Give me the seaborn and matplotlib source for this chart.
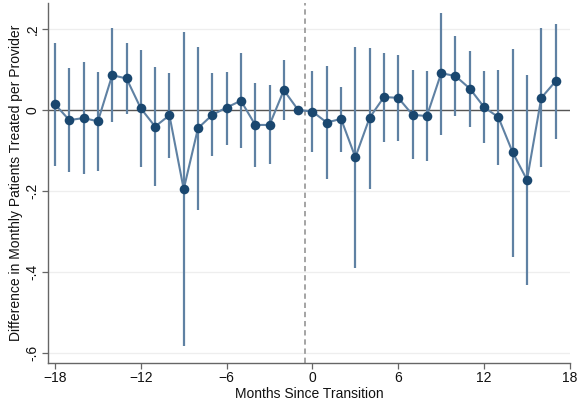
import numpy as np
import pandas as pd
import matplotlib.pyplot as plt
import seaborn as sns

plt.switch_backend("Agg")
sns.set_theme(style="white")
plt.rcParams["font.family"] = ["Liberation Sans", "DejaVu Sans"]

# Event-study coefficients (month -1 is the reference period)
months = list(range(-18, 18))
coef = [0.014, -0.025, -0.020, -0.028, 0.086, 0.078, 0.004, -0.041, -0.013,
        -0.196, -0.045, -0.012, 0.006, 0.023, -0.037, -0.037, 0.049, 0.000,
        -0.004, -0.031, -0.022, -0.117, -0.019, 0.032, 0.030, -0.012, -0.015,
        0.091, 0.084, 0.053, 0.007, -0.018, -0.105, -0.173, 0.030, 0.071]
ci_hi = [0.166, 0.103, 0.119, 0.094, 0.204, 0.166, 0.148, 0.106, 0.092,
         0.192, 0.156, 0.091, 0.095, 0.140, 0.067, 0.061, 0.123, np.nan,
         0.096, 0.109, 0.057, 0.156, 0.154, 0.142, 0.137, 0.098, 0.096,
         0.239, 0.183, 0.147, 0.096, 0.099, 0.152, 0.087, 0.202, 0.212]
ci_lo = [-0.138, -0.154, -0.158, -0.150, -0.030, -0.011, -0.140, -0.188, -0.119,
         -0.584, -0.247, -0.115, -0.086, -0.095, -0.140, -0.134, -0.025, np.nan,
         -0.103, -0.171, -0.103, -0.391, -0.195, -0.080, -0.077, -0.122, -0.127,
         -0.061, -0.014, -0.041, -0.081, -0.136, -0.364, -0.432, -0.141, -0.072]

x_ticks = [-18, -12, -6, 0, 6, 12, 18]
y_ticks = [-0.6, -0.4, -0.2, 0, 0.2]
y_tick_labels = ["-.6", "-.4", "-.2", "0", ".2"]

df = pd.DataFrame({"month": months, "coef": coef, "lo": ci_lo, "hi": ci_hi})

navy = "#1a476f"
light = "#5f81a3"

fig = plt.figure(figsize=(5.78, 4.07), dpi=100)
ax = fig.add_axes([0.083, 0.108, 0.903, 0.885])

for y in y_ticks:
    ax.axhline(y, color="#eeeeee", lw=0.9, zorder=0)
ax.axhline(0, color="#555555", lw=1.0, zorder=1)
ax.axvline(-0.5, color="#8c8c8c", lw=1.1, ls=(0, (3.5, 2.5)), zorder=1)

ci = df.dropna()
ax.vlines(ci["month"], ci["lo"], ci["hi"], color=light, lw=1.6, zorder=2)
sns.lineplot(data=df, x="month", y="coef", color=light, lw=1.5, ax=ax, zorder=3)
sns.scatterplot(data=df, x="month", y="coef", color=navy, s=48, edgecolor=navy,
                linewidth=0, ax=ax, zorder=4)

ax.set_xlim(-18.49, 18)
ax.set_ylim(-0.626, 0.265)
ax.set_xticks(x_ticks)
ax.set_yticks(y_ticks)
ax.set_yticklabels(y_tick_labels, rotation=90, va="center")
ax.tick_params(axis="both", direction="out", length=4, width=0.9, color="#666666",
               labelsize=10, labelcolor="#111111", pad=2, left=True, bottom=True)

ax.set_xlabel("Months Since Transition", fontsize=10, color="#111111", labelpad=1)
ax.set_ylabel("Difference in Monthly Patients Treated per Provider", fontsize=10,
              color="#111111", labelpad=2)

for side in ["top", "right"]:
    ax.spines[side].set_visible(False)
for side in ["left", "bottom"]:
    ax.spines[side].set_color("#666666")
    ax.spines[side].set_linewidth(1.0)

fig.savefig("out.png", dpi=100)
